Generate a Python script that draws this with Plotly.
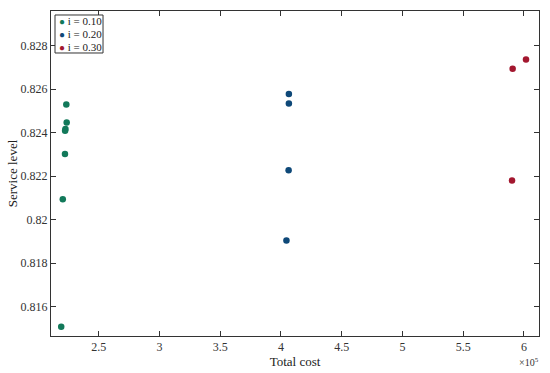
import plotly.graph_objects as go

# Total cost and service level for each interest rate i
cost_i10 = [223300, 223600, 222600, 222300, 222200, 220400, 219100]
level_i10 = [0.82529, 0.82446, 0.82417, 0.82408, 0.82302, 0.82094, 0.81507]

cost_i20 = [406500, 406500, 406300, 404500]
level_i20 = [0.82577, 0.82534, 0.82227, 0.81904]

cost_i30 = [601700, 590700, 590200]
level_i30 = [0.82736, 0.82693, 0.82180]

series_names = ["i = 0.10", "i = 0.20", "i = 0.30"]
series_colors = ["#12795a", "#0e4878", "#a3172f"]

x_ticks = [250000, 300000, 350000, 400000, 450000, 500000, 550000, 600000]
x_labels = ["2.5", "3", "3.5", "4", "4.5", "5", "5.5", "6"]
y_ticks = [0.816, 0.818, 0.820, 0.822, 0.824, 0.826, 0.828]
y_labels = ["0.816", "0.818", "0.82", "0.822", "0.824", "0.826", "0.828"]

font_name = "Liberation Serif, Times New Roman, serif"

fig = go.Figure()
for xs, ys, name, col in zip([cost_i10, cost_i20, cost_i30],
                             [level_i10, level_i20, level_i30],
                             series_names, series_colors):
    fig.add_trace(go.Scatter(x=xs, y=ys, mode="markers", name=name, showlegend=False,
                             marker=dict(color=col, size=6.5, line=dict(width=0))))

axis_style = dict(showline=True, linecolor="#333333", linewidth=1, mirror="ticks",
                  ticks="inside", ticklen=5, tickcolor="#333333", showgrid=False,
                  zeroline=False, automargin=False,
                  tickfont=dict(family=font_name, size=12, color="#333333"))

fig.update_xaxes(range=[210700, 612400], tickvals=x_ticks, ticktext=x_labels,
                 title=dict(text="Total cost", font=dict(family=font_name, size=13, color="#222222"),
                            standoff=2),
                 **axis_style)
fig.update_yaxes(range=[0.81465, 0.82959], tickvals=y_ticks, ticktext=y_labels,
                 title=dict(text="Service level", font=dict(family=font_name, size=13, color="#222222"),
                            standoff=0),
                 **axis_style)

fig.add_annotation(text="×10<sup>5</sup>", xref="paper", yref="paper", x=0.955, y=-0.055,
                   xanchor="left", yanchor="top", showarrow=False,
                   font=dict(family=font_name, size=10, color="#333333"))

# compact boxed legend in the top-left corner, like the original figure
fig.add_shape(type="rect", xref="paper", yref="paper", x0=0.0082, x1=0.1066,
              y0=0.8708, y1=0.9877, line=dict(color="#333333", width=1), fillcolor="white")
for k, (name, col) in enumerate(zip(series_names, series_colors)):
    fig.add_annotation(
        text=f"<span style='color:{col};font-size:10px'>●</span> {name}",
        xref="paper", yref="paper", x=0.012, y=0.9677 - k * 0.0385,
        xanchor="left", yanchor="middle", showarrow=False,
        font=dict(family=font_name, size=11, color="#222222"))

fig.update_layout(
    width=550, height=373,
    margin=dict(l=51, r=11, t=11, b=37),
    paper_bgcolor="white", plot_bgcolor="white",
    font=dict(family=font_name, color="#222222"),
)

# drop the default page margin so the figure fills the window
fig.write_html("out.html", config={"displayModeBar": False},
               post_script="document.body.style.margin='0';")
